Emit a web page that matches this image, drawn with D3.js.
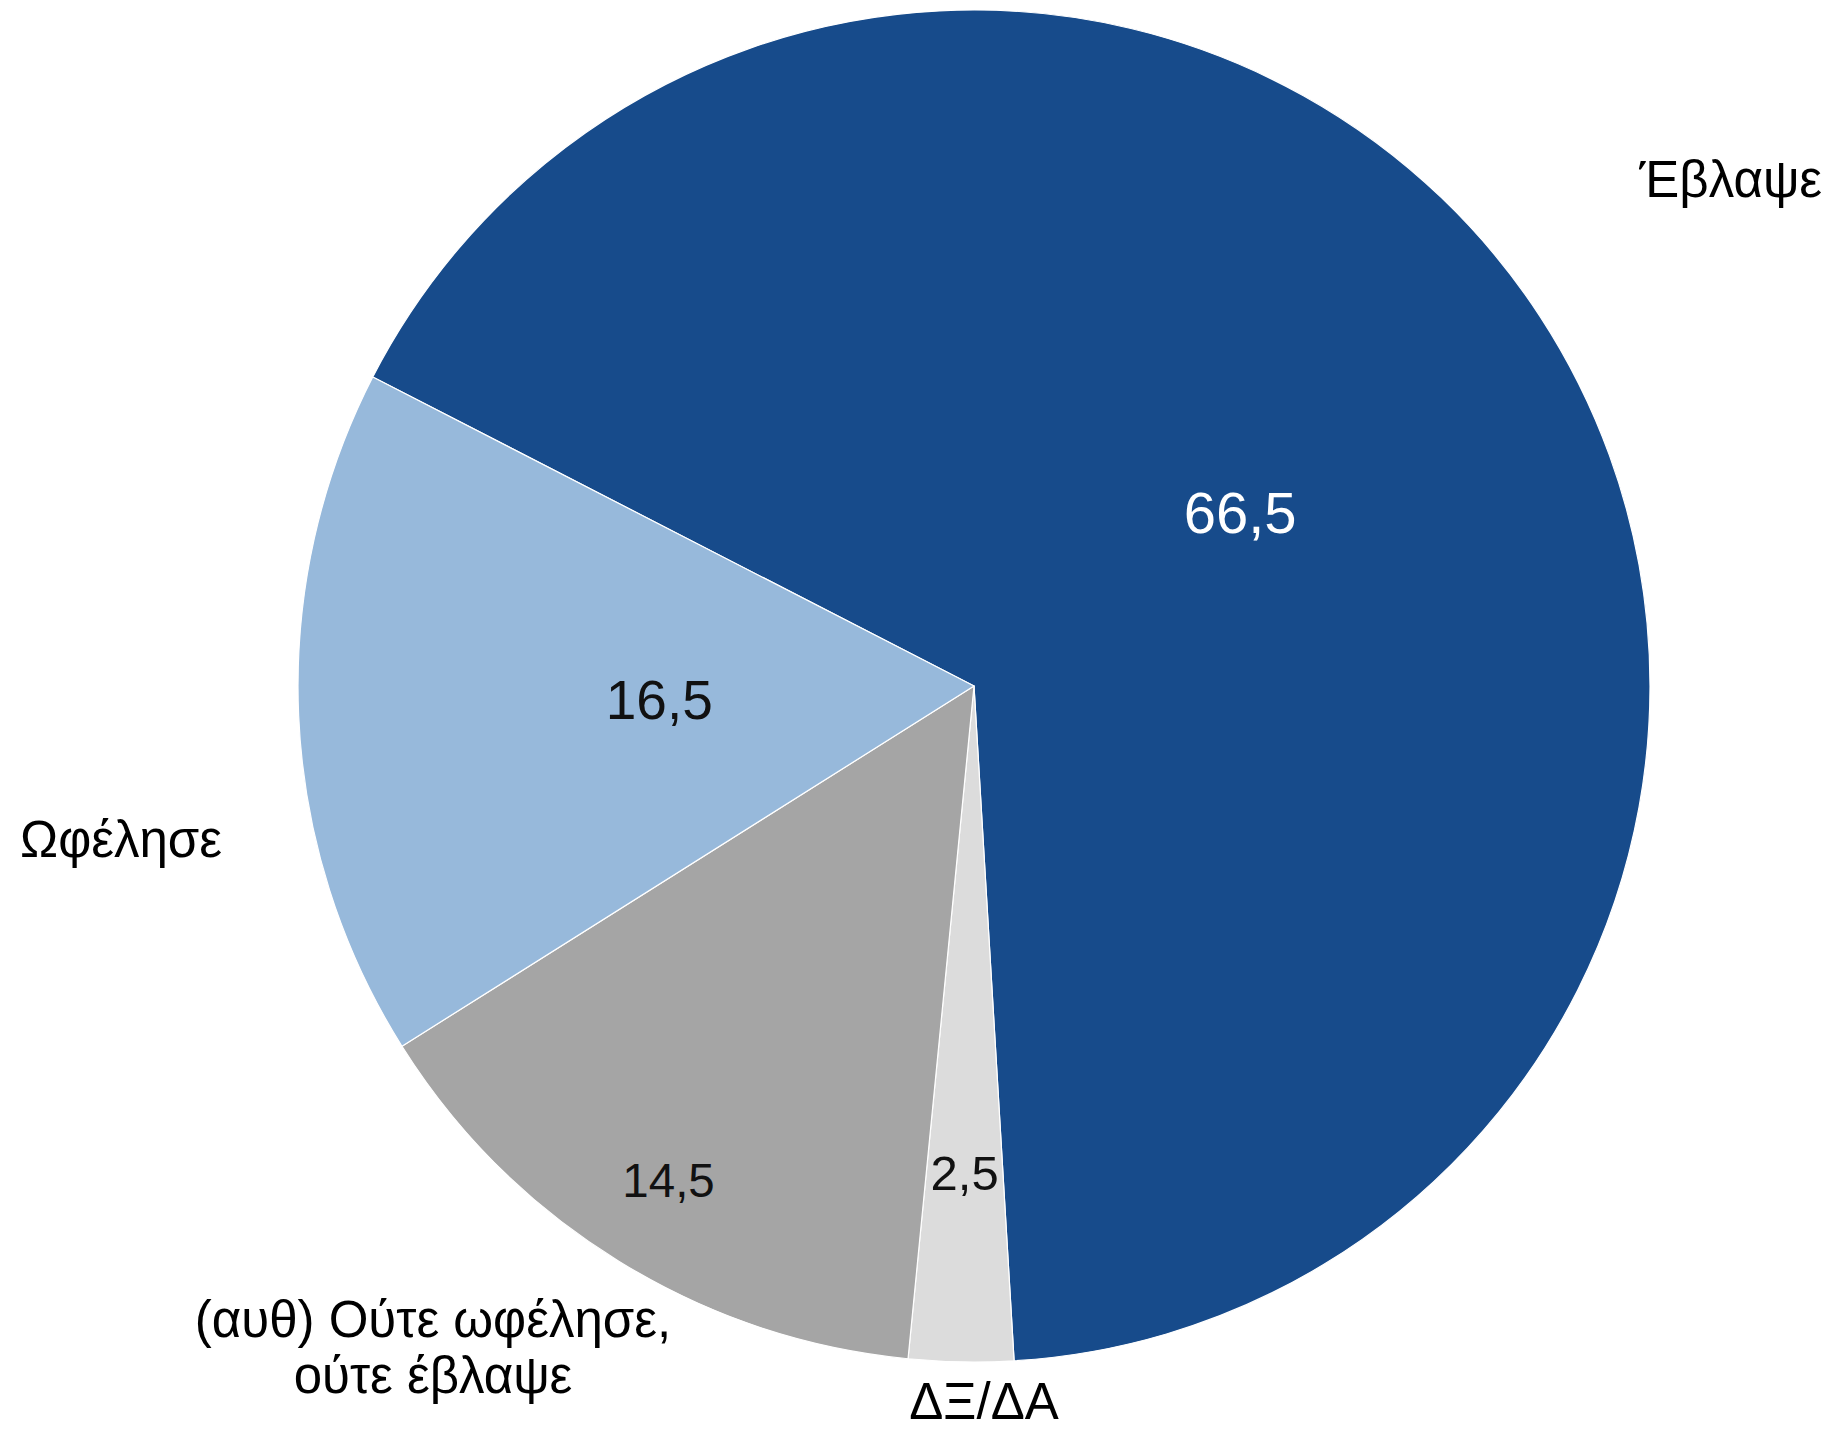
<!DOCTYPE html>
<html>
<head>
<meta charset="utf-8">
<script src="https://cdn.jsdelivr.net/npm/d3@7"></script>
<style>
  body { margin: 0; background: #fff; }
  text { font-family: "Liberation Sans", Arial, Helvetica, sans-serif; }
</style>
</head>
<body>
<div class="chart"></div>
<script>
const w = 1834;
const h = 1430;

// slices in clockwise order, starting from the upper-left edge
const categories = ["Έβλαψε", "ΔΞ/ΔΑ", "(αυθ) Ούτε ωφέλησε, ούτε έβλαψε", "Ωφέλησε"];
const values = [66.5, 2.5, 14.5, 16.5];
const valueLabels = ["66,5", "2,5", "14,5", "16,5"];
const colors = ["#174b8b", "#dcdcdc", "#a5a5a5", "#97b9db"];

const cx = 974, cy = 686, r = 676;
const start = 297.2 * Math.PI / 180;

const svg = d3.select(".chart")
  .append("svg")
  .attr("width", w)
  .attr("height", h);

const pie = d3.pie()
  .sort(null)
  .startAngle(start)
  .endAngle(start + 2 * Math.PI);

const arcs = pie(values);

const arc = d3.arc()
  .innerRadius(0)
  .outerRadius(r);

const g = svg.append("g")
  .attr("transform", `translate(${cx},${cy})`);

g.selectAll("path")
  .data(arcs)
  .enter().append("path")
  .attr("d", arc)
  .attr("fill", (d, i) => colors[i])
  .attr("stroke", "#fff")
  .attr("stroke-width", 1.2)
  .attr("stroke-linejoin", "round");

// value labels: radius fraction and font size per slice
const valPos = [
  { rf: 0.47, fs: 58, fill: "#fff" },
  { rf: 0.72, fs: 49, fill: "#111" },
  { rf: 0.86, fs: 47.5, fill: "#111" },
  { rf: 0.466, fs: 55, fill: "#111" }
];

g.selectAll(".val")
  .data(arcs)
  .enter().append("text")
  .attr("class", "val")
  .attr("text-anchor", "middle")
  .attr("x", (d, i) => {
    const a = (d.startAngle + d.endAngle) / 2;
    return Math.sin(a) * r * valPos[i].rf;
  })
  .attr("y", (d, i) => {
    const a = (d.startAngle + d.endAngle) / 2;
    return -Math.cos(a) * r * valPos[i].rf;
  })
  .attr("dy", "0.35em")
  .attr("font-size", (d, i) => valPos[i].fs)
  .attr("fill", (d, i) => valPos[i].fill)
  .text((d, i) => valueLabels[i]);

// category labels
const catLabels = [
  { lines: ["Έβλαψε"], x: 1822, y: 197, anchor: "end" },
  { lines: ["ΔΞ/ΔΑ"], x: 984, y: 1419, anchor: "middle" },
  { lines: ["(αυθ) Ούτε ωφέλησε,", "ούτε έβλαψε"], x: 433, y: 1337, anchor: "middle" },
  { lines: ["Ωφέλησε"], x: 20, y: 857, anchor: "start" }
];

catLabels.forEach((c, i) => {
  const t = svg.append("text")
    .attr("class", "cat")
    .attr("x", c.x)
    .attr("y", c.y)
    .attr("text-anchor", c.anchor)
    .attr("font-size", 51)
    .attr("fill", "#000");
  c.lines.forEach((l, j) => {
    t.append("tspan")
      .attr("x", c.x)
      .attr("dy", j === 0 ? 0 : 56)
      .text(l);
  });
});
</script>
</body>
</html>
